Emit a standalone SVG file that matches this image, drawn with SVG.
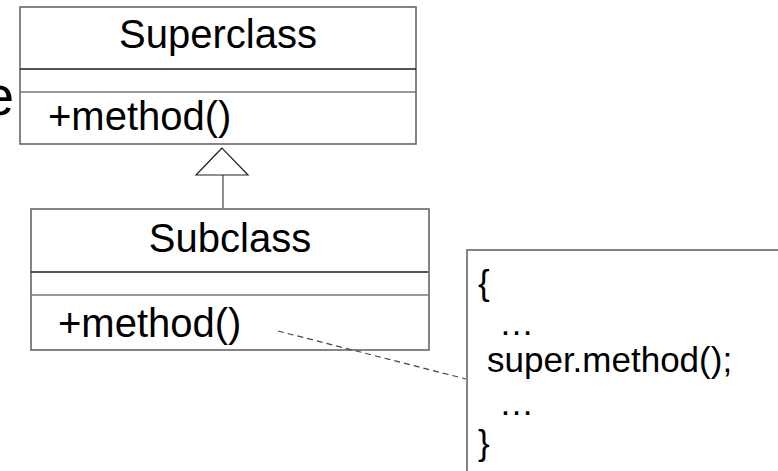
<svg xmlns="http://www.w3.org/2000/svg" width="778" height="471" viewBox="0 0 778 471">
<style>
.box{fill:#fff;stroke:#666;stroke-width:1.6}
.div1{stroke:#1a1a1a;stroke-width:1.3}
.div2{stroke:#777;stroke-width:1.6}
.t{font-family:"Liberation Sans",Arial,sans-serif;font-size:40px;fill:#000}
.n{font-family:"Liberation Sans",Arial,sans-serif;font-size:35px;fill:#000}
.conn{fill:none;stroke:#444;stroke-width:1.2}
</style>
<rect width="778" height="471" fill="#fff"/>
<text class="t" x="-17" y="115" style="font-size:56px">e</text>
<g id="superclass">
<rect class="box" x="20" y="7" width="396" height="137"/>
<line class="div1" x1="20" y1="69" x2="416" y2="69"/>
<line class="div2" x1="20" y1="92" x2="416" y2="92"/>
<text class="t" x="218" y="48" text-anchor="middle">Superclass</text>
<text class="t" x="48" y="130">+method()</text>
</g>
<g id="subclass">
<rect class="box" x="31" y="209" width="398" height="141"/>
<line class="div1" x1="31" y1="272" x2="428" y2="272"/>
<line class="div2" x1="31" y1="295" x2="428" y2="295"/>
<text class="t" x="230" y="252" text-anchor="middle">Subclass</text>
<text class="t" x="58" y="337">+method()</text>
</g>
<g id="note">
<rect class="box" x="467" y="250" width="320" height="230"/>
<text class="n" x="478" y="295">{</text>
<text class="n" x="499" y="335">…</text>
<text class="n" x="487" y="372">super.method();</text>
<text class="n" x="499" y="415">…</text>
<text class="n" x="478" y="455">}</text>
</g>
<g id="connectors">
<line class="conn" x1="223" y1="175" x2="223" y2="208"/>
<polygon points="222,148 196,175 248,175" fill="#fff" stroke="#222" stroke-width="1.2"/>
<line class="conn" x1="278" y1="331" x2="466" y2="379" stroke-dasharray="6,4"/>
</g>
</svg>
